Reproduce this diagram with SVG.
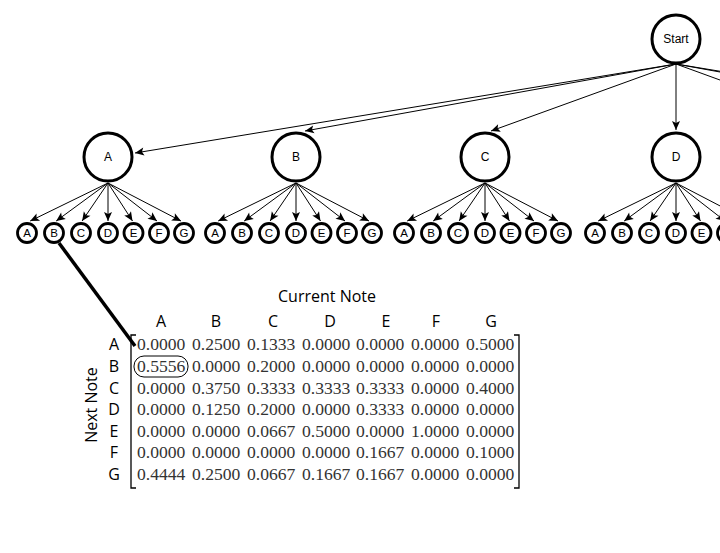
<svg xmlns="http://www.w3.org/2000/svg" width="720" height="553" viewBox="0 0 720 553">
<style>
.big{fill:#fff;stroke:#000;stroke-width:3}
.sm{fill:#fff;stroke:#000;stroke-width:2.8}
.lb{font-family:"Liberation Sans",Arial,sans-serif;font-size:12px;text-anchor:middle;fill:#000}
.ls{font-family:"Liberation Sans",Arial,sans-serif;font-size:11.5px;text-anchor:middle;fill:#000}
.e{stroke:#000;stroke-width:1;fill:none;marker-end:url(#arr)}
.hd{font-family:"Open Sans","Liberation Sans",sans-serif;font-size:16px;text-anchor:middle;fill:#000}
.num{font-family:"Liberation Serif","Times New Roman",serif;font-size:17.6px;fill:#333}
.br{stroke:#000;stroke-width:1.3;fill:none}
</style>
<defs>
<marker id="arr" viewBox="-10 -5 11 10" refX="0" refY="0" markerWidth="11" markerHeight="10" markerUnits="userSpaceOnUse" orient="auto">
<path d="M0,0 L-9,-4 L-7,0 L-9,4 Z" fill="#000"/>
</marker>
</defs>
<rect width="720" height="553" fill="#fff"/>
<g id="connectors">
<line class="e" x1="676" y1="64" x2="135" y2="153"/>
<line class="e" x1="676" y1="64" x2="305" y2="131"/>
<line class="e" x1="676" y1="64" x2="491" y2="131"/>
<line class="e" x1="676" y1="64" x2="676" y2="130"/>
<line class="e" x1="676" y1="64" x2="860" y2="131"/>
<line class="e" x1="676" y1="64" x2="1044" y2="131"/>
<line class="e" x1="676" y1="64" x2="1215" y2="153"/>
<line class="e" x1="108" y1="183" x2="30.2" y2="221"/>
<line class="e" x1="108" y1="183" x2="56.2" y2="221"/>
<line class="e" x1="108" y1="183" x2="82.1" y2="221"/>
<line class="e" x1="108" y1="183" x2="108" y2="221"/>
<line class="e" x1="108" y1="183" x2="132.5" y2="221"/>
<line class="e" x1="108" y1="183" x2="157" y2="221"/>
<line class="e" x1="108" y1="183" x2="181" y2="221"/>
<line class="e" x1="296" y1="183" x2="218.2" y2="221"/>
<line class="e" x1="296" y1="183" x2="244.2" y2="221"/>
<line class="e" x1="296" y1="183" x2="270.1" y2="221"/>
<line class="e" x1="296" y1="183" x2="296" y2="221"/>
<line class="e" x1="296" y1="183" x2="320.5" y2="221"/>
<line class="e" x1="296" y1="183" x2="345" y2="221"/>
<line class="e" x1="296" y1="183" x2="369" y2="221"/>
<line class="e" x1="485" y1="183" x2="407.2" y2="221"/>
<line class="e" x1="485" y1="183" x2="433.2" y2="221"/>
<line class="e" x1="485" y1="183" x2="459.1" y2="221"/>
<line class="e" x1="485" y1="183" x2="485" y2="221"/>
<line class="e" x1="485" y1="183" x2="509.5" y2="221"/>
<line class="e" x1="485" y1="183" x2="534" y2="221"/>
<line class="e" x1="485" y1="183" x2="558" y2="221"/>
<line class="e" x1="676" y1="183" x2="598.2" y2="221"/>
<line class="e" x1="676" y1="183" x2="624.2" y2="221"/>
<line class="e" x1="676" y1="183" x2="650.1" y2="221"/>
<line class="e" x1="676" y1="183" x2="676" y2="221"/>
<line class="e" x1="676" y1="183" x2="700.5" y2="221"/>
<line class="e" x1="676" y1="183" x2="725" y2="221"/>
<line class="e" x1="676" y1="183" x2="749" y2="221"/>
<line x1="59" y1="243" x2="135" y2="346" stroke="#000" stroke-width="3.5"/>
</g>
<g id="start"><circle class="big" cx="676" cy="39" r="24"/><text class="lb" x="676" y="43">Start</text></g>
<g id="nA"><circle class="big" cx="108" cy="157" r="24"/><text class="lb" x="108" y="161">A</text></g>
<g id="nB"><circle class="big" cx="296" cy="157" r="24"/><text class="lb" x="296" y="161">B</text></g>
<g id="nC"><circle class="big" cx="485" cy="157" r="24"/><text class="lb" x="485" y="161">C</text></g>
<g id="nD"><circle class="big" cx="676" cy="157" r="24"/><text class="lb" x="676" y="161">D</text></g>
<g id="nAA"><circle class="sm" cx="27" cy="233" r="9.5"/><text class="ls" x="27" y="237">A</text></g>
<g id="nAB"><circle class="sm" cx="54" cy="233" r="9.5"/><text class="ls" x="54" y="237">B</text></g>
<g id="nAC"><circle class="sm" cx="81" cy="233" r="9.5"/><text class="ls" x="81" y="237">C</text></g>
<g id="nAD"><circle class="sm" cx="108" cy="233" r="9.5"/><text class="ls" x="108" y="237">D</text></g>
<g id="nAE"><circle class="sm" cx="133.5" cy="233" r="9.5"/><text class="ls" x="133.5" y="237">E</text></g>
<g id="nAF"><circle class="sm" cx="159" cy="233" r="9.5"/><text class="ls" x="159" y="237">F</text></g>
<g id="nAG"><circle class="sm" cx="184" cy="233" r="9.5"/><text class="ls" x="184" y="237">G</text></g>
<g id="nBA"><circle class="sm" cx="215" cy="233" r="9.5"/><text class="ls" x="215" y="237">A</text></g>
<g id="nBB"><circle class="sm" cx="242" cy="233" r="9.5"/><text class="ls" x="242" y="237">B</text></g>
<g id="nBC"><circle class="sm" cx="269" cy="233" r="9.5"/><text class="ls" x="269" y="237">C</text></g>
<g id="nBD"><circle class="sm" cx="296" cy="233" r="9.5"/><text class="ls" x="296" y="237">D</text></g>
<g id="nBE"><circle class="sm" cx="321.5" cy="233" r="9.5"/><text class="ls" x="321.5" y="237">E</text></g>
<g id="nBF"><circle class="sm" cx="347" cy="233" r="9.5"/><text class="ls" x="347" y="237">F</text></g>
<g id="nBG"><circle class="sm" cx="372" cy="233" r="9.5"/><text class="ls" x="372" y="237">G</text></g>
<g id="nCA"><circle class="sm" cx="404" cy="233" r="9.5"/><text class="ls" x="404" y="237">A</text></g>
<g id="nCB"><circle class="sm" cx="431" cy="233" r="9.5"/><text class="ls" x="431" y="237">B</text></g>
<g id="nCC"><circle class="sm" cx="458" cy="233" r="9.5"/><text class="ls" x="458" y="237">C</text></g>
<g id="nCD"><circle class="sm" cx="485" cy="233" r="9.5"/><text class="ls" x="485" y="237">D</text></g>
<g id="nCE"><circle class="sm" cx="510.5" cy="233" r="9.5"/><text class="ls" x="510.5" y="237">E</text></g>
<g id="nCF"><circle class="sm" cx="536" cy="233" r="9.5"/><text class="ls" x="536" y="237">F</text></g>
<g id="nCG"><circle class="sm" cx="561" cy="233" r="9.5"/><text class="ls" x="561" y="237">G</text></g>
<g id="nDA"><circle class="sm" cx="595" cy="233" r="9.5"/><text class="ls" x="595" y="237">A</text></g>
<g id="nDB"><circle class="sm" cx="622" cy="233" r="9.5"/><text class="ls" x="622" y="237">B</text></g>
<g id="nDC"><circle class="sm" cx="649" cy="233" r="9.5"/><text class="ls" x="649" y="237">C</text></g>
<g id="nDD"><circle class="sm" cx="676" cy="233" r="9.5"/><text class="ls" x="676" y="237">D</text></g>
<g id="nDE"><circle class="sm" cx="701.5" cy="233" r="9.5"/><text class="ls" x="701.5" y="237">E</text></g>
<g id="nDF"><circle class="sm" cx="727" cy="233" r="9.5"/></g>
<g id="matrix">
<text class="hd" x="327" y="302">Current Note</text>
<text class="hd" y="327" font-size="17"><tspan x="161">A</tspan><tspan x="216">B</tspan><tspan x="273">C</tspan><tspan x="330">D</tspan><tspan x="386">E</tspan><tspan x="436">F</tspan><tspan x="491">G</tspan></text>
<text class="hd" x="114" font-size="17"><tspan x="114" y="350">A</tspan><tspan x="114" y="372">B</tspan><tspan x="114" y="394">C</tspan><tspan x="114" y="415">D</tspan><tspan x="114" y="437">E</tspan><tspan x="114" y="458">F</tspan><tspan x="114" y="480">G</tspan></text>
<text class="hd" font-size="17" transform="translate(97,405) rotate(-90)" x="0" y="0">Next Note</text>
<path class="br" d="M136,335 H131 V488 H136"/>
<path class="br" d="M514,335 H519 V488 H514"/>
<rect x="134" y="356" width="54" height="21" rx="10" ry="10" fill="none" stroke="#000" stroke-width="1"/>
<g class="num">
<text y="350"><tspan x="137">0.0000</tspan><tspan x="192">0.2500</tspan><tspan x="247">0.1333</tspan><tspan x="302">0.0000</tspan><tspan x="356">0.0000</tspan><tspan x="411">0.0000</tspan><tspan x="466">0.5000</tspan></text>
<text y="372"><tspan x="137">0.5556</tspan><tspan x="192">0.0000</tspan><tspan x="247">0.2000</tspan><tspan x="302">0.0000</tspan><tspan x="356">0.0000</tspan><tspan x="411">0.0000</tspan><tspan x="466">0.0000</tspan></text>
<text y="394"><tspan x="137">0.0000</tspan><tspan x="192">0.3750</tspan><tspan x="247">0.3333</tspan><tspan x="302">0.3333</tspan><tspan x="356">0.3333</tspan><tspan x="411">0.0000</tspan><tspan x="466">0.4000</tspan></text>
<text y="415"><tspan x="137">0.0000</tspan><tspan x="192">0.1250</tspan><tspan x="247">0.2000</tspan><tspan x="302">0.0000</tspan><tspan x="356">0.3333</tspan><tspan x="411">0.0000</tspan><tspan x="466">0.0000</tspan></text>
<text y="437"><tspan x="137">0.0000</tspan><tspan x="192">0.0000</tspan><tspan x="247">0.0667</tspan><tspan x="302">0.5000</tspan><tspan x="356">0.0000</tspan><tspan x="411">1.0000</tspan><tspan x="466">0.0000</tspan></text>
<text y="458"><tspan x="137">0.0000</tspan><tspan x="192">0.0000</tspan><tspan x="247">0.0000</tspan><tspan x="302">0.0000</tspan><tspan x="356">0.1667</tspan><tspan x="411">0.0000</tspan><tspan x="466">0.1000</tspan></text>
<text y="480"><tspan x="137">0.4444</tspan><tspan x="192">0.2500</tspan><tspan x="247">0.0667</tspan><tspan x="302">0.1667</tspan><tspan x="356">0.1667</tspan><tspan x="411">0.0000</tspan><tspan x="466">0.0000</tspan></text>
</g>
</g>
</svg>
